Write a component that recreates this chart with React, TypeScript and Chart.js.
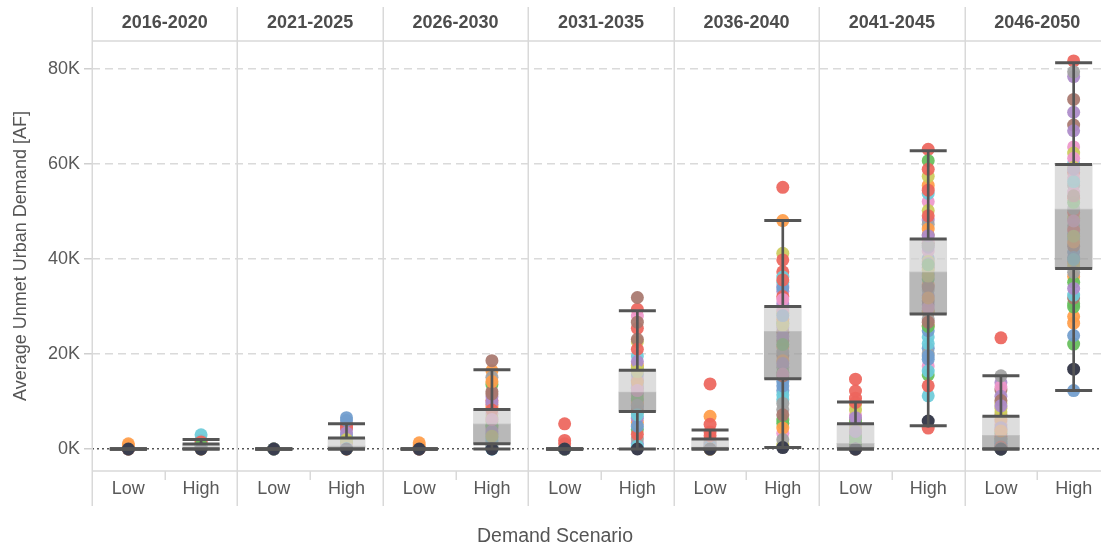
import React, { useEffect, useRef } from 'react';
import { Chart, registerables } from 'chart.js';

Chart.register(...registerables);

const FONT = "'Liberation Sans', Arial, Helvetica, sans-serif";

// Facets and categories
const PERIODS = ['2016-2020', '2021-2025', '2026-2030', '2031-2035', '2036-2040', '2041-2045', '2046-2050'];
const SCENARIOS = ['Low', 'High'];
const Y_TICKS = [0, 20000, 40000, 60000, 80000];

// Colour of each scenario run (Tableau classic medium palette)
const PALETTE = ['#ED665D', '#FF9E4A', '#67BF5C', '#729ECE', '#AD8BC9', '#A8786E', '#ED97CA', '#A2A2A2', '#CDCC5D', '#6DCCDA'];
const BASELINE_COLOR = '#3B3E4E';

// Baseline run value per category (Low/High for each period)
const BASELINE = [0, 0, 0, 0, 0, 0, 0, 0, 0, 300, 0, 5900, 0, 16800];

// Individual run values per category
const low2016 = [0, 1100, 0, 0, 0, 0, 0, 0, 0, 0, 0, 700];
const high2016 = [1800, 0, 1000, 400, 200, 0, 300, 600, 0, 3000, 1500, 0, 800, 0];
const low2021 = [0, 0, 0, 0, 0, 0, 0, 0, 0, 0];
const high2021 = [5200, 0, 1500, 6600, 4200, 300, 2500, 800, 1200, 2900, 4600, 0, 200, 6000, 3400, 0, 500, 0, 2000, 100];
const low2026 = [0, 1300, 0, 0, 0, 0, 0, 0, 0, 0, 0, 600];
const high2026 = [10200, 16500, 13600, 3200, 11000, 18600, 7400, 15100, 5800, 2400, 9300, 8600, 5000, 1200, 9800, 12100, 4300, 700, 6600, 1800, 8200, 14200, 4700, 0, 3700, 11600, 6200, 300, 2700, 0];
const low2031 = [5300, 0, 0, 0, 0, 0, 0, 0, 0, 0, 1800, 0, 0, 0, 0, 0, 0, 0, 0, 0, 1100];
const high2031 = [29400, 17600, 4100, 16900, 14500, 31900, 28000, 10100, 22600, 19600, 25400, 5600, 12800, 8900, 1200, 23100, 15200, 2100, 11200, 13700, 3100, 9700, 7800, 15800, 6500, 8100, 13100, 11700, 17200, 600, 21000, 14100, 10600, 4800, 18400, 26700, 12300, 9200, 16300, 7200];
const low2036 = [13700, 6900, 0, 400, 1500, 0, 900, 0, 0, 0, 5200, 2000, 0, 0, 0, 300, 0, 1200, 0, 0, 3600, 0, 0, 600, 0, 0, 0, 0, 0, 0, 2800, 0];
const high2036 = [55100, 48100, 26500, 14200, 30600, 22800, 34300, 8300, 41200, 35100, 39800, 27300, 6100, 12300, 33200, 19700, 3300, 17200, 28600, 10400, 37300, 21500, 16100, 33900, 25600, 24600, 29300, 20400, 800, 11400, 32100, 18600, 5400, 13300, 23700, 15400, 31500, 9600, 26100, 36200, 35600, 4400, 22000, 28100, 18000, 7200, 15800, 2000];
const low2041 = [14700, 6200, 5800, 2100, 4900, 1300, 7100, 0, 8200, 700, 12200, 3400, 0, 1000, 2800, 0, 400, 1500, 9300, 0, 10700, 0, 2500, 0, 6600, 800, 0, 300, 4200, 0, 9800, 0, 1100, 0, 3700, 0];
const high2041 = [63100, 55500, 60700, 40100, 48200, 45100, 52100, 47300, 57400, 53800, 58900, 26000, 29100, 21200, 30400, 38200, 17500, 20000, 50200, 23600, 54500, 34600, 15600, 36900, 32300, 43300, 41700, 33500, 39500, 11200, 13300, 28800, 35800, 24900, 42500, 31200, 44000, 27400, 37600, 22200, 4400, 46300, 25800, 18900, 39000, 34100, 29700, 42900, 36400, 16400, 49100, 31800, 38800, 19600, 44900, 26700];
const low2046 = [23400, 5100, 2200, 800, 14000, 12400, 13100, 15400, 9600, 1600, 4100, 0, 3300, 0, 11100, 7200, 5800, 0, 8600, 0, 2700, 6200, 0, 1200, 4500, 10200, 0, 2000, 7800, 0, 400, 3800, 0, 0, 9100, 0];
const high2046 = [81700, 27900, 22100, 12300, 78400, 73600, 63600, 79400, 62300, 60100, 58200, 26500, 29900, 23900, 70900, 68200, 61200, 55500, 48600, 44200, 52800, 36300, 30600, 41500, 67000, 31800, 57100, 47000, 59300, 32400, 49800, 39400, 35100, 45300, 33800, 42700, 54100, 50600, 38600, 56300, 46100, 43600, 51900, 40300, 58900, 53300, 48000, 37200, 44800, 39900];

const POINT_VALUES = [low2016, high2016, low2021, high2021, low2026, high2026, low2031, high2031, low2036, high2036, low2041, high2041, low2046, high2046];

// Box plot statistics per category
const WHISKER_LOW = [0, 0, 0, 0, 0, 0, 0, 0, 0, 300, 0, 4900, 0, 12300];
const Q1 = [0, 0, 0, 0, 0, 1100, 0, 7900, 0, 14800, 0, 28400, 0, 38000];
const MEDIAN = [0, 300, 0, 600, 0, 5300, 0, 12000, 400, 24800, 1200, 37300, 2900, 50500];
const Q3 = [0, 1050, 0, 2300, 0, 8300, 0, 16600, 2100, 30000, 5300, 44200, 6900, 59900];
const WHISKER_HIGH = [0, 2000, 0, 5300, 0, 16700, 0, 29100, 4000, 48100, 9900, 62800, 15400, 81300];

const catX = (c: number) => c + 0.5;

const panelPlugin = {
  id: 'panels',
  beforeDatasetsDraw(chart: any) {
    const { ctx, chartArea, scales } = chart;
    const x = scales.x;
    ctx.save();
    ctx.strokeStyle = '#d9d9d9';
    ctx.lineWidth = 1.5;
    const seg = (x1: number, y1: number, x2: number, y2: number) => {
      ctx.beginPath();
      ctx.moveTo(x1, y1);
      ctx.lineTo(x2, y2);
      ctx.stroke();
    };
    for (let p = 0; p <= PERIODS.length; p++) {
      const px = Math.round(x.getPixelForValue(p * 2)) + 0.25;
      seg(px, 7, px, 506);
    }
    seg(chartArea.left, chartArea.top, chartArea.right, chartArea.top);
    seg(chartArea.left, chartArea.bottom, chartArea.right, chartArea.bottom);
    for (let p = 0; p < PERIODS.length; p++) {
      const px = Math.round(x.getPixelForValue(p * 2 + 1)) + 0.25;
      seg(px, chartArea.bottom, px, chartArea.bottom + 9);
    }
    ctx.fillStyle = '#4d4d4d';
    ctx.font = `bold 18px ${FONT}`;
    ctx.textAlign = 'center';
    ctx.textBaseline = 'middle';
    PERIODS.forEach((label, p) => {
      ctx.fillText(label, x.getPixelForValue(p * 2 + 1), 23);
    });
    ctx.restore();
  },
};

export default function App() {
  const ref = useRef<HTMLCanvasElement>(null);

  useEffect(() => {
    const pointData: { x: number; y: number }[] = [];
    const pointColors: string[] = [];
    POINT_VALUES.forEach((vals, c) => {
      vals.forEach((v, i) => {
        pointData.push({ x: catX(c), y: v });
        pointColors.push(PALETTE[i % PALETTE.length] + 'EE');
      });
    });
    const baselineData = BASELINE.map((v, c) => ({ x: catX(c), y: v }));
    const hingeData: { x: number; y: number }[] = [];
    POINT_VALUES.forEach((_, c) => {
      [WHISKER_LOW[c], Q1[c], Q3[c], WHISKER_HIGH[c]].forEach((v) => hingeData.push({ x: catX(c), y: v }));
    });

    const chart = new Chart(ref.current as HTMLCanvasElement, {
      type: 'scatter',
      data: {
        datasets: [
          {
            type: 'scatter',
            label: 'Hinges',
            data: hingeData,
            pointStyle: 'line',
            pointRadius: 18.5,
            pointBorderWidth: 3,
            borderWidth: 3,
            pointBorderColor: '#555555',
            borderColor: '#555555',
            order: 0,
          } as any,
          {
            type: 'bar',
            label: 'Median to Q3',
            data: MEDIAN.map((m, c) => ({ x: catX(c), y: [m, Q3[c]] })),
            backgroundColor: 'rgba(208,208,208,0.72)',
            barThickness: 37,
            grouped: false,
            borderWidth: 0,
            order: 1,
          } as any,
          {
            type: 'bar',
            label: 'Q1 to median',
            data: Q1.map((q, c) => ({ x: catX(c), y: [q, MEDIAN[c]] })),
            backgroundColor: 'rgba(156,156,156,0.72)',
            barThickness: 37,
            grouped: false,
            borderWidth: 0,
            order: 1,
          } as any,
          {
            type: 'bar',
            label: 'Upper whisker',
            data: Q3.map((q, c) => ({ x: catX(c), y: [q, WHISKER_HIGH[c]] })),
            backgroundColor: '#555555',
            barThickness: 2,
            grouped: false,
            borderWidth: 0,
            order: 2,
          } as any,
          {
            type: 'bar',
            label: 'Lower whisker',
            data: Q1.map((q, c) => ({ x: catX(c), y: [WHISKER_LOW[c], q] })),
            backgroundColor: '#555555',
            barThickness: 2,
            grouped: false,
            borderWidth: 0,
            order: 2,
          } as any,
          {
            type: 'scatter',
            label: 'Baseline',
            data: baselineData,
            pointRadius: 6.5,
            pointBorderWidth: 0,
            pointBackgroundColor: BASELINE_COLOR,
            backgroundColor: BASELINE_COLOR,
            order: 3,
          } as any,
          {
            type: 'scatter',
            label: 'Runs',
            data: pointData,
            pointRadius: 6.5,
            pointBorderWidth: 0,
            pointBackgroundColor: pointColors,
            backgroundColor: pointColors,
            order: 4,
          } as any,
        ],
      },
      options: {
        responsive: false,
        devicePixelRatio: 1,
        animation: false,
        events: [],
        layout: { autoPadding: false, padding: { top: 41, left: 0, right: 6, bottom: 0 } },
        plugins: {
          legend: { display: false },
          tooltip: { enabled: false },
          title: {
            display: true,
            position: 'bottom',
            text: 'Demand Scenario',
            color: '#555555',
            font: { family: FONT, size: 19.5, weight: 'normal', lineHeight: 1 },
            padding: 0,
          },
        },
        scales: {
          x: {
            type: 'linear',
            min: 0,
            max: 14,
            offset: false,
            afterBuildTicks: (s: any) => {
              s.ticks = POINT_VALUES.map((_, c) => ({ value: catX(c) }));
            },
            afterFit: (s: any) => {
              s.height = 55.5;
              s.paddingLeft = 0;
              s.paddingRight = 0;
            },
            ticks: {
              autoSkip: false,
              maxRotation: 0,
              minRotation: 0,
              padding: 7,
              color: '#595959',
              font: { family: FONT, size: 18 },
              callback: (v: any) => SCENARIOS[Math.floor(Number(v)) % 2],
            },
            grid: { display: false, drawTicks: false },
            border: { display: false },
          },
          y: {
            type: 'linear',
            min: -4630,
            max: 85900,
            afterBuildTicks: (s: any) => {
              s.ticks = Y_TICKS.map((v) => ({ value: v }));
            },
            afterFit: (s: any) => {
              s.width = 92;
              s.paddingTop = 0;
              s.paddingBottom = 0;
            },
            ticks: {
              padding: 4,
              color: '#595959',
              font: { family: FONT, size: 18 },
              callback: (v: any) => `${Number(v) / 1000}K`,
            },
            grid: {
              color: (c: any) => (c.tick && c.tick.value === 0 ? '#555555' : '#dadada'),
              lineWidth: 1.5,
              drawTicks: true,
              tickLength: 8,
              tickColor: '#cfcfcf',
              tickWidth: 1.5,
            },
            border: {
              display: false,
              dash: (c: any) => (c.tick && c.tick.value === 0 ? [2, 3] : [8, 5]),
            },
            title: {
              display: true,
              text: 'Average Unmet Urban Demand [AF]',
              color: '#555555',
              font: { family: FONT, size: 18 },
              padding: { top: 10, bottom: 0 },
            },
          },
        },
      } as any,
      plugins: [panelPlugin],
    });
    return () => chart.destroy();
  }, []);

  return (
    <div style={{ position: 'fixed', left: 0, top: 0, width: 1101, height: 546, overflow: 'hidden', background: '#ffffff' }}>
      <canvas ref={ref} width={1116} height={546} style={{ display: 'block', width: 1116, height: 546 }} />
    </div>
  );
}
